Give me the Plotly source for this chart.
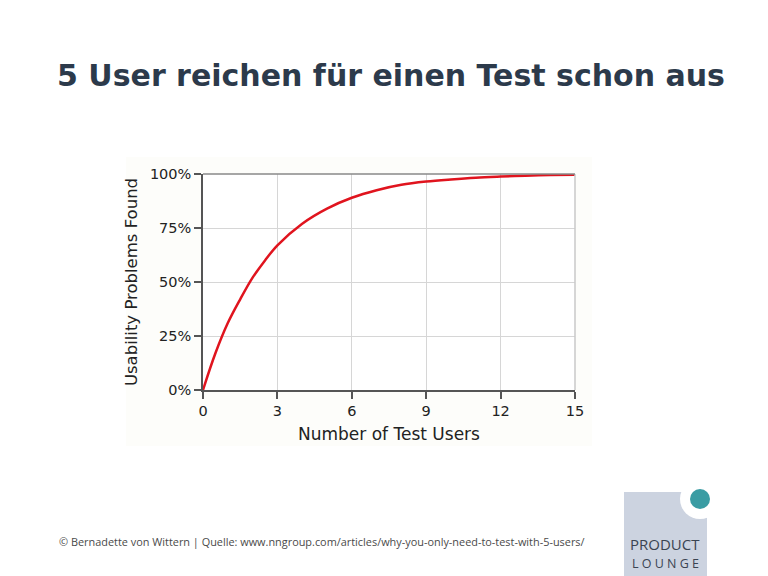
import plotly.graph_objects as go

# Data
test_users = [0, 0.5, 1, 1.5, 2, 2.5, 3, 4, 5, 6, 7, 8, 9, 10, 11, 12, 13, 14, 15]
problems_found = [0, 17, 31, 42, 52, 60, 67, 77, 84, 89, 92.5, 95, 96.5, 97.5, 98.3, 98.8, 99.2, 99.5, 99.7]
x_ticks = [0, 3, 6, 9, 12, 15]
y_ticks = [0, 25, 50, 75, 100]
y_tick_labels = ["0%", "25%", "50%", "75%", "100%"]

W, H = 768, 576
L, R, T, B = 203, 575, 174, 390  # plot area in pixels


def px(x):
    return (x - L) / (R - L)


def py(y):
    return (B - y) / (B - T)


fig = go.Figure()
fig.add_trace(go.Scatter(
    x=test_users, y=problems_found, mode="lines",
    line=dict(color="#e0141e", width=2.5, shape="spline", smoothing=1.0),
    hoverinfo="skip", showlegend=False,
))

shapes = [
    # chart image background
    dict(type="rect", xref="paper", yref="paper", x0=px(126), x1=px(592), y0=py(446), y1=py(157),
         fillcolor="#fdfdfa", line=dict(width=0), layer="below"),
    dict(type="rect", xref="paper", yref="paper", x0=0, x1=1, y0=0, y1=1,
         fillcolor="#ffffff", line=dict(width=0), layer="below"),
    # right border and top line
    dict(type="line", xref="paper", yref="paper", x0=1, x1=1, y0=0, y1=1,
         line=dict(color="#c8c8c8", width=1.5)),
    dict(type="line", xref="paper", yref="paper", x0=0, x1=1, y0=1, y1=1,
         line=dict(color="#888888", width=1.5)),
    # logo
    dict(type="rect", xref="paper", yref="paper", x0=px(624), x1=px(707), y0=py(576), y1=py(492),
         fillcolor="#ccd3e0", line=dict(width=0)),
    dict(type="circle", xref="paper", yref="paper", x0=px(680), x1=px(720), y0=py(519), y1=py(479),
         fillcolor="#ffffff", line=dict(width=0)),
    dict(type="circle", xref="paper", yref="paper", x0=px(690), x1=px(710), y0=py(509), y1=py(489),
         fillcolor="#3a9ca3", line=dict(width=0)),
]

annotations = [
    dict(text="<b>5 User reichen für einen Test schon aus</b>", xref="paper", yref="paper",
         x=px(391), y=py(75), xanchor="center", yanchor="middle", showarrow=False,
         font=dict(family="DejaVu Sans", size=30, color="#2c3a4b")),
    dict(text="© Bernadette von Wittern | Quelle: www.nngroup.com/articles/why-you-only-need-to-test-with-5-users/",
         xref="paper", yref="paper", x=px(57), y=py(541), xanchor="left", yanchor="middle",
         showarrow=False, font=dict(family="Open Sans", size=10.9, color="#4a4a4a")),
    dict(text="PRODUCT", xref="paper", yref="paper", x=px(665), y=py(544), xanchor="center",
         yanchor="middle", showarrow=False, font=dict(family="Open Sans", size=15, color="#3a4452")),
    dict(text="L O U N G E", xref="paper", yref="paper", x=px(665), y=py(563), xanchor="center",
         yanchor="middle", showarrow=False, font=dict(family="Open Sans", size=12.5, color="#3a4452")),
]

fig.update_layout(
    width=W, height=H, autosize=False,
    margin=dict(l=L, r=W - R, t=T, b=H - B, pad=0),
    paper_bgcolor="#ffffff", plot_bgcolor="rgba(0,0,0,0)",
    shapes=shapes, annotations=annotations,
    font=dict(family="DejaVu Sans", color="#222222"),
)
fig.update_xaxes(
    range=[0, 15], tickvals=x_ticks, ticktext=[str(v) for v in x_ticks],
    showgrid=True, gridcolor="#d6d6d6", gridwidth=1, zeroline=False,
    showline=True, linecolor="#555555", linewidth=1.5,
    ticks="outside", ticklen=7, tickcolor="#555555", tickwidth=1.5,
    tickfont=dict(family="DejaVu Sans", size=14.5, color="#222222"),
    title=dict(text="Number of Test Users", font=dict(family="DejaVu Sans", size=17, color="#222222"), standoff=10),
)
fig.update_yaxes(
    range=[0, 100], tickvals=y_ticks, ticktext=y_tick_labels,
    showgrid=True, gridcolor="#d6d6d6", gridwidth=1, zeroline=False,
    showline=True, linecolor="#555555", linewidth=1.5,
    ticks="outside", ticklen=7, tickcolor="#555555", tickwidth=1.5,
    tickfont=dict(family="DejaVu Sans", size=14.5, color="#222222"),
    title=dict(text="Usability Problems Found", font=dict(family="DejaVu Sans", size=16.5, color="#222222"), standoff=8),
)

fig.write_html("out.html")
